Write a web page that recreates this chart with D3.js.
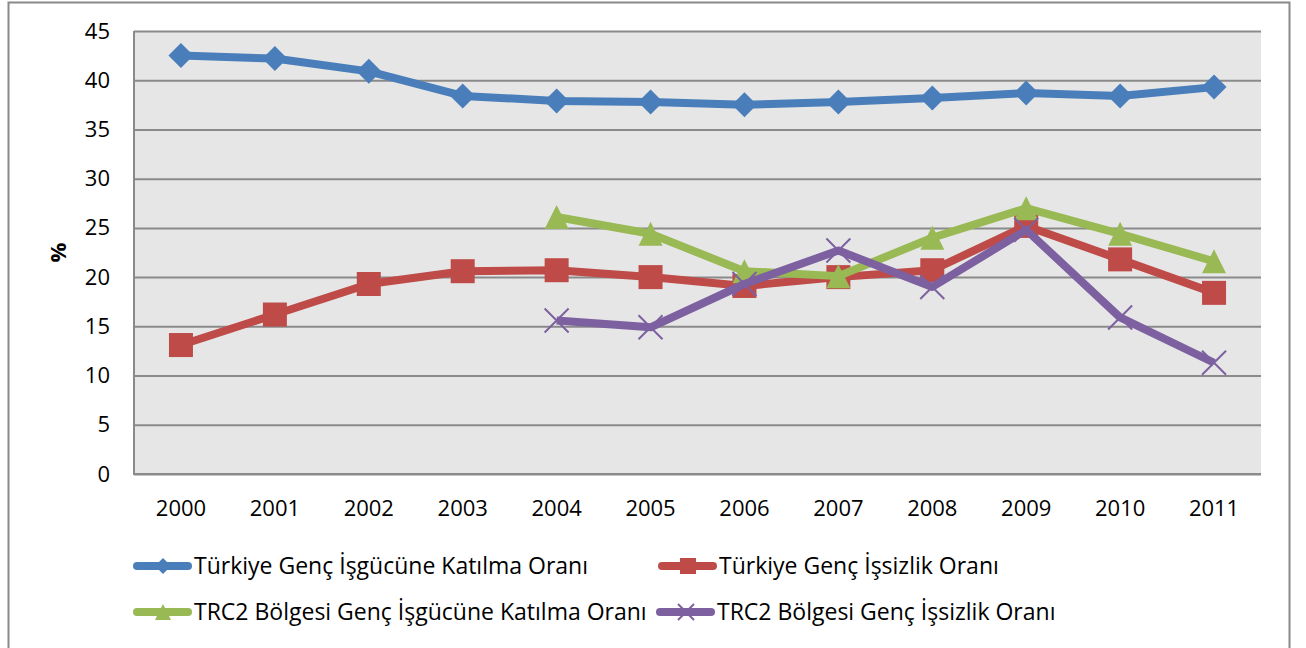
<!DOCTYPE html>
<html>
<head>
<meta charset="utf-8">
<script src="https://cdn.jsdelivr.net/npm/d3@7"></script>
<style>
  body { margin: 0; background: #fff; }
  svg { display: block; }
</style>
</head>
<body>
<svg></svg>
<script>
const width = 1306;
const height = 648;
const margin = { top: 31, right: 45, bottom: 174, left: 134 };

const years = ["2000", "2001", "2002", "2003", "2004", "2005", "2006", "2007", "2008", "2009", "2010", "2011"];
const yTicks = [0, 5, 10, 15, 20, 25, 30, 35, 40, 45];

const trParticipation = [42.5, 42.2, 40.9, 38.4, 37.9, 37.8, 37.5, 37.8, 38.2, 38.7, 38.4, 39.3];
const trUnemployment = [13.1, 16.2, 19.3, 20.6, 20.7, 20.0, 19.1, 20.0, 20.7, 25.2, 21.8, 18.4];
const trc2Participation = [null, null, null, null, 26.1, 24.4, 20.6, 20.1, 24.0, 27.0, 24.4, 21.6];
const trc2Unemployment = [null, null, null, null, 15.6, 14.9, 19.3, 22.7, 19.0, 24.8, 15.9, 11.3];

const seriesNames = [
  "Türkiye Genç İşgücüne Katılma Oranı",
  "Türkiye Genç İşsizlik Oranı",
  "TRC2 Bölgesi Genç İşgücüne Katılma Oranı",
  "TRC2 Bölgesi Genç İşsizlik Oranı"
];
const colors = ["#4a7ebb", "#be4b48", "#98b954", "#7d60a0"];
const markers = ["diamond", "square", "triangle", "cross"];

const series = [trParticipation, trUnemployment, trc2Participation, trc2Unemployment]
  .map((values, i) => ({
    name: seriesNames[i],
    color: colors[i],
    marker: markers[i],
    values: values.map((v, j) => ({ year: years[j], value: v }))
  }));

const font = '"Open Sans", "Noto Sans", sans-serif';

const svg = d3.select("svg")
  .attr("width", width)
  .attr("height", height)
  .style("font-family", font);

// chart frame
svg.append("rect")
  .attr("x", 8.5).attr("y", 2.5)
  .attr("width", 1281).attr("height", 660)
  .attr("fill", "#fff")
  .attr("stroke", "#898989")
  .attr("stroke-width", 2);

const x = d3.scaleBand()
  .domain(years)
  .range([margin.left, width - margin.right]);

const y = d3.scaleLinear()
  .domain([0, 45])
  .range([height - margin.bottom, margin.top]);

svg.append("rect")
  .attr("x", margin.left).attr("y", margin.top)
  .attr("width", width - margin.left - margin.right)
  .attr("height", height - margin.top - margin.bottom)
  .attr("fill", "#e6e6e6");

svg.append("g")
  .attr("class", "grid")
  .attr("transform", `translate(${margin.left},0)`)
  .call(d3.axisLeft(y)
    .tickValues(yTicks)
    .tickSize(-(width - margin.left - margin.right))
    .tickFormat(""))
  .call(g => g.select(".domain").remove())
  .call(g => g.selectAll("line").attr("stroke", "#8a8a8a").attr("stroke-width", 2));

// plot border (left and bottom axis lines)
svg.append("path")
  .attr("d", `M${margin.left},${margin.top}V${height - margin.bottom}H${width - margin.right}`)
  .attr("fill", "none")
  .attr("stroke", "#8a8a8a")
  .attr("stroke-width", 2);

svg.append("g")
  .attr("transform", `translate(${margin.left},0)`)
  .call(d3.axisLeft(y).tickValues(yTicks).tickSize(0).tickPadding(24))
  .call(g => g.select(".domain").remove())
  .call(g => g.selectAll("text")
    .attr("fill", "#000")
    .style("font-family", font)
    .style("font-size", "22px"));

svg.append("g")
  .attr("transform", `translate(0,${height - margin.bottom})`)
  .call(d3.axisBottom(x).tickSize(0).tickPadding(26))
  .call(g => g.select(".domain").remove())
  .call(g => g.selectAll("text")
    .attr("fill", "#000")
    .style("font-family", font)
    .style("font-size", "22px"));

svg.append("text")
  .attr("transform", `translate(66,${y(22.5)}) rotate(-90)`)
  .attr("text-anchor", "middle")
  .style("font-size", "22px")
  .style("font-weight", "bold")
  .text("%");

function markerPath(type, s) {
  const h = s / 2;
  if (type === "diamond") return `M0,${-h}L${h},0L0,${h}L${-h},0Z`;
  if (type === "square") return `M${-h},${-h}H${h}V${h}H${-h}Z`;
  if (type === "triangle") return `M0,${-h}L${h},${h}H${-h}Z`;
  return `M${-h},${-h}L${h},${h}M${-h},${h}L${h},${-h}`;
}

function drawMarker(g, type, color, s) {
  g.append("path")
    .attr("d", markerPath(type, s))
    .attr("fill", type === "cross" ? "none" : color)
    .attr("stroke", color)
    .attr("stroke-width", type === "cross" ? 2 : 0);
}

const line = d3.line()
  .defined(d => d.value !== null)
  .x(d => x(d.year) + x.bandwidth() / 2)
  .y(d => y(d.value));

series.forEach(s => {
  svg.append("path")
    .datum(s.values)
    .attr("fill", "none")
    .attr("stroke", s.color)
    .attr("stroke-width", 8)
    .attr("stroke-linejoin", "round")
    .attr("d", line);

  const size = s.marker === "diamond" ? 25 : 24;
  s.values.filter(d => d.value !== null).forEach(d => {
    const g = svg.append("g")
      .attr("transform", `translate(${x(d.year) + x.bandwidth() / 2},${y(d.value)})`);
    drawMarker(g, s.marker, s.color, size);
  });
});

// legend
const legendPos = [[133, 566], [658, 566], [133, 612], [656, 612]];
series.forEach((s, i) => {
  const g = svg.append("g")
    .attr("transform", `translate(${legendPos[i][0]},${legendPos[i][1]})`);
  g.append("line")
    .attr("x1", 4).attr("x2", 55)
    .attr("stroke", s.color)
    .attr("stroke-width", 8)
    .attr("stroke-linecap", "round");
  const m = g.append("g").attr("transform", "translate(30,0)");
  drawMarker(m, s.marker, s.color, 16);
  g.append("text")
    .attr("x", 61)
    .attr("y", 8)
    .style("font-size", "23px")
    .text(s.name);
});
</script>
</body>
</html>
